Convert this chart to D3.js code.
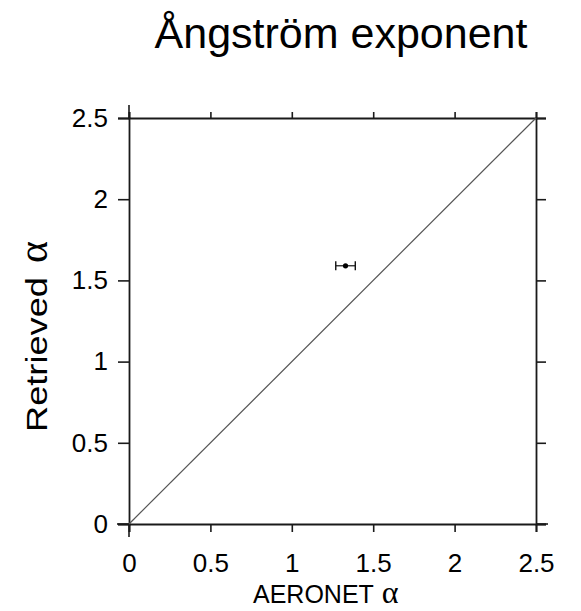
<!DOCTYPE html>
<html>
<head>
<meta charset="utf-8">
<script src="https://cdn.jsdelivr.net/npm/d3@7"></script>
<style>
  html, body { margin: 0; padding: 0; background: #fff; }
  svg { display: block; }
  text { font-family: "Liberation Sans", Arial, sans-serif; fill: #000; }
</style>
</head>
<body>
<div id="chart"></div>
<script>
// Ångström exponent: retrieved vs. AERONET
const tickValues = [0, 0.5, 1, 1.5, 2, 2.5];
const tickLabels = ["0", "0.5", "1", "1.5", "2", "2.5"];
const domain = [0, 2.5];

// retrieved point with horizontal error bar
const aeronetAlpha = [1.33];
const retrievedAlpha = [1.59];
const aeronetErr = [0.06];

const W = 581, H = 611;
const margin = { left: 129, right: 45, top: 118, bottom: 87 };

const svg = d3.select("#chart").append("svg")
  .attr("width", W).attr("height", H);

const x = d3.scaleLinear().domain(domain).range([margin.left, W - margin.right]);
const y = d3.scaleLinear().domain(domain).range([H - margin.bottom, margin.top]);

const fmt = d => tickLabels[tickValues.indexOf(d)];

function styleAxis(g, size) {
  g.selectAll("path.domain").attr("stroke", "#1a1a1a").attr("stroke-width", 1.8);
  g.selectAll(".tick line").attr("stroke", "#1a1a1a").attr("stroke-width", 1.6);
  g.selectAll(".tick text").attr("font-size", size)
    .attr("font-family", "Liberation Sans, Arial, sans-serif").attr("fill", "#000");
}

// bottom axis
svg.append("g")
  .attr("transform", `translate(0,${y(0)})`)
  .call(d3.axisBottom(x).tickValues(tickValues).tickFormat(fmt).tickSizeOuter(0).tickSize(8).tickPadding(22))
  .call(g => styleAxis(g, 26));

// left axis
svg.append("g")
  .attr("transform", `translate(${x(0)},0)`)
  .call(d3.axisLeft(y).tickValues(tickValues).tickFormat(fmt).tickSizeOuter(0).tickSize(11).tickPadding(10))
  .call(g => styleAxis(g, 26));

// top axis (ticks only)
svg.append("g")
  .attr("transform", `translate(0,${y(2.5)})`)
  .call(d3.axisTop(x).tickValues(tickValues).tickFormat("").tickSizeOuter(0).tickSize(6))
  .call(g => styleAxis(g, 26));

// right axis (ticks only)
svg.append("g")
  .attr("transform", `translate(${x(2.5)},0)`)
  .call(d3.axisRight(y).tickValues(tickValues).tickFormat("").tickSizeOuter(0).tickSize(10))
  .call(g => styleAxis(g, 26));

// longer corner ticks
const corners = [
  [x(0), y(2.5), x(0), y(2.5) - 13],
  [x(0), y(0), x(0) - 12, y(0)],
  [x(0), y(0), x(0), y(0) + 13],
  [x(2.5), y(0), x(2.5) + 12, y(0)]
];
svg.append("g").selectAll("line").data(corners).join("line")
  .attr("x1", d => d[0]).attr("y1", d => d[1])
  .attr("x2", d => d[2]).attr("y2", d => d[3])
  .attr("stroke", "#1a1a1a").attr("stroke-width", 1.6);

// 1:1 line
svg.append("line")
  .attr("x1", x(domain[0])).attr("y1", y(domain[0]))
  .attr("x2", x(domain[1])).attr("y2", y(domain[1]))
  .attr("stroke", "#555").attr("stroke-width", 1.2);

// error bars and points
const pts = aeronetAlpha.map((v, i) => ({ x: v, y: retrievedAlpha[i], e: aeronetErr[i] }));
const eb = svg.append("g").selectAll("g").data(pts).join("g");
eb.append("line")
  .attr("x1", d => x(d.x - d.e)).attr("x2", d => x(d.x + d.e))
  .attr("y1", d => y(d.y)).attr("y2", d => y(d.y))
  .attr("stroke", "#111").attr("stroke-width", 1.2);
eb.selectAll("line.cap").data(d => [[d.x - d.e, d.y], [d.x + d.e, d.y]]).join("line")
  .attr("class", "cap")
  .attr("x1", d => x(d[0])).attr("x2", d => x(d[0]))
  .attr("y1", d => y(d[1]) - 4.5).attr("y2", d => y(d[1]) + 4.5)
  .attr("stroke", "#111").attr("stroke-width", 1.4);
eb.append("circle")
  .attr("cx", d => x(d.x)).attr("cy", d => y(d.y)).attr("r", 2.6)
  .attr("fill", "#000");

// title
svg.append("text")
  .attr("x", 341).attr("y", 48)
  .attr("text-anchor", "middle")
  .attr("font-size", 43)
  .text("Ångström exponent");

// x axis label
const xl = svg.append("text")
  .attr("x", 253).attr("y", 603)
  .attr("text-anchor", "start")
  .attr("font-size", 25);
xl.append("tspan").text("AERONET");
xl.append("tspan").attr("dx", 8).attr("font-family", "Liberation Serif, serif").attr("font-size", 32).text("α");

// y axis label
const yl = svg.append("text")
  .attr("transform", "translate(47,432) rotate(-90)")
  .attr("text-anchor", "start")
  .attr("font-size", 30);
yl.append("tspan").attr("textLength", 155).attr("lengthAdjust", "spacingAndGlyphs").text("Retrieved");
yl.append("tspan").attr("dx", 14).attr("font-family", "Liberation Serif, serif").attr("font-size", 42).text("α");
</script>
</body>
</html>
